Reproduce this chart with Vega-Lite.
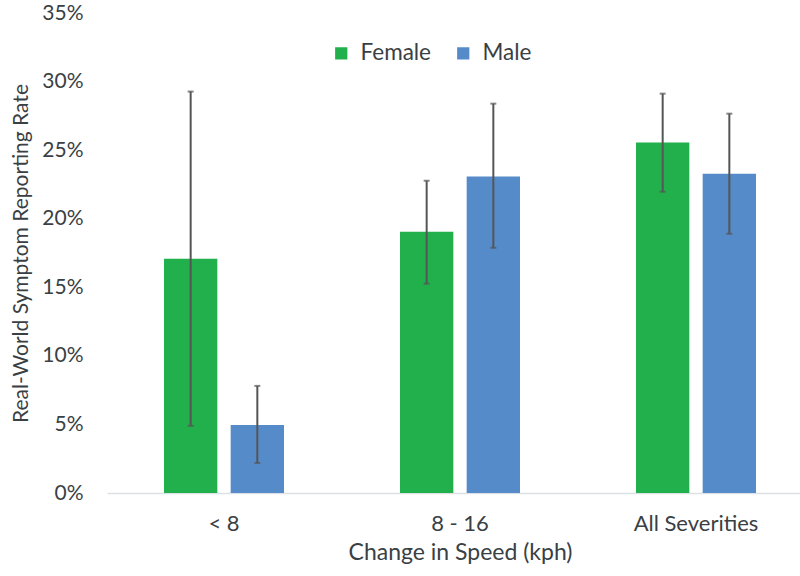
{
  "$schema": "https://vega.github.io/schema/vega-lite/v6.json",
  "width": 694,
  "height": 480,
  "autosize": "none",
  "padding": {"left": 107, "top": 13, "right": 0, "bottom": 83},
  "background": "white",
  "config": {"view": {"stroke": null}, "font": "Lato"},
  "data": {
    "values": [
      {"group": "< 8", "sex": "Female", "rate": 0.1708, "lo": 0.049, "hi": 0.2927},
      {"group": "< 8", "sex": "Male", "rate": 0.0496, "lo": 0.0219, "hi": 0.0781},
      {"group": "8 - 16", "sex": "Female", "rate": 0.1905, "lo": 0.1526, "hi": 0.2277},
      {"group": "8 - 16", "sex": "Male", "rate": 0.2307, "lo": 0.1788, "hi": 0.2839},
      {"group": "All Severities", "sex": "Female", "rate": 0.2555, "lo": 0.2197, "hi": 0.2912},
      {"group": "All Severities", "sex": "Male", "rate": 0.2328, "lo": 0.189, "hi": 0.2766}
    ]
  },
  "encoding": {
    "x": {
      "field": "group",
      "type": "nominal",
      "sort": ["< 8", "8 - 16", "All Severities"],
      "scale": {"range": [0, 706], "paddingInner": 0.4915, "paddingOuter": 0.2415},
      "axis": {
        "title": "Change in Speed (kph)",
        "titleFontSize": 23,
        "titleFontWeight": "normal",
        "titleColor": "#3a3f44",
        "titlePadding": 7,
        "labelAngle": 0,
        "labelFontSize": 22,
        "labelColor": "#3a3f44",
        "labelPadding": 20,
        "ticks": false,
        "domainColor": "#dde1e6",
        "domainWidth": 1.5
      }
    },
    "xOffset": {
      "field": "sex",
      "type": "nominal",
      "sort": ["Female", "Male"],
      "scale": {"paddingInner": 0.2, "paddingOuter": 0}
    }
  },
  "layer": [
    {
      "mark": {"type": "bar"},
      "encoding": {
        "y": {
          "field": "rate",
          "type": "quantitative",
          "scale": {"domain": [0, 0.35]},
          "axis": {
            "title": "Real-World Symptom Reporting Rate",
            "titleFontSize": 21,
            "titleFontWeight": "normal",
            "titleColor": "#3a3f44",
            "titlePadding": 10,
            "values": [0, 0.05, 0.1, 0.15, 0.2, 0.25, 0.3, 0.35],
            "format": ".0%",
            "labelFontSize": 21,
            "labelColor": "#3a3f44",
            "labelPadding": 24,
            "ticks": false,
            "domain": false,
            "grid": false
          }
        },
        "color": {
          "field": "sex",
          "type": "nominal",
          "sort": ["Female", "Male"],
          "scale": {"domain": ["Female", "Male"], "range": ["#21b04b", "#568bca"]},
          "legend": {
            "title": null,
            "orient": "none",
            "legendX": 223,
            "legendY": 29,
            "direction": "horizontal",
            "symbolType": "square",
            "symbolSize": 150,
            "symbolStrokeWidth": 0,
            "symbolOpacity": 1,
            "labelFontSize": 22.5,
            "labelColor": "#3a3f44",
            "columnPadding": 20,
            "labelOffset": 8
          }
        }
      }
    },
    {
      "mark": {"type": "rule", "color": "#555555", "strokeWidth": 2},
      "encoding": {
        "y": {"field": "lo", "type": "quantitative"},
        "y2": {"field": "hi"}
      }
    },
    {
      "mark": {"type": "tick", "color": "#555555", "size": 6, "thickness": 2},
      "encoding": {"y": {"field": "hi", "type": "quantitative"}}
    },
    {
      "mark": {"type": "tick", "color": "#555555", "size": 6, "thickness": 2},
      "encoding": {"y": {"field": "lo", "type": "quantitative"}}
    }
  ]
}
